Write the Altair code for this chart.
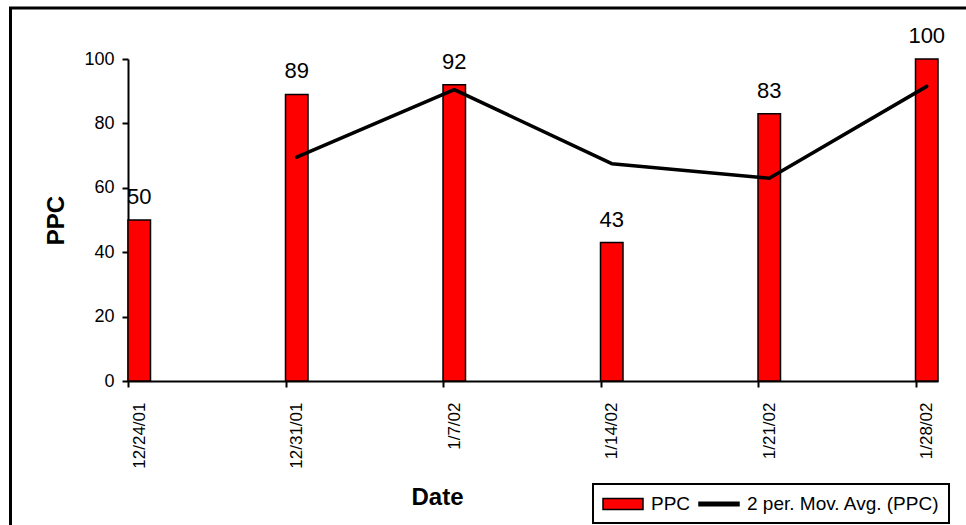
import altair as alt
import pandas as pd

# ---- data ----
dates = ["2001-12-24", "2001-12-31", "2002-01-07", "2002-01-14", "2002-01-21", "2002-01-28"]
ppc = [50, 89, 92, 43, 83, 100]
mov_avg = [None, 69.5, 90.5, 67.5, 63, 91.5]
series_names = ["PPC", "2 per. Mov. Avg. (PPC)"]
series_colors = ["#FF0000", "#000000"]
y_ticks = [0, 20, 40, 60, 80, 100]
domain_end = "2002-01-29"

df = pd.DataFrame({"date": dates, "ppc": ppc, "ma": mov_avg})
leg_df = pd.DataFrame({"series": series_names})


def dt(s):
    y, m, d = (int(p) for p in s.split("-"))
    return alt.DateTime(year=y, month=m, date=d, utc=True)


FONT = "Liberation Sans"

x_scale = alt.Scale(type="utc", domain=[dt(dates[0]), dt(domain_end)], nice=False, padding=0)
y_scale = alt.Scale(domain=[0, 100], nice=False, zero=True, padding=0)

x_axis = alt.Axis(
    values=[dt(d) for d in dates],
    labelExpr="utcFormat(datum.value, '%-m/%-d/%y')",
    labelAngle=270, labelFontSize=17, labelOffset=11, labelPadding=15,
    labelFlush=False, labelOverlap=False,
    tickSize=6, tickWidth=2, domainWidth=2, grid=False,
    title="Date", titleFontSize=24, titleFontWeight="bold",
    titleX=309, titleY=123, titleAlign="center", titleBaseline="alphabetic",
)
y_axis = alt.Axis(
    values=y_ticks, labelFontSize=18, labelPadding=8,
    tickSize=6, tickWidth=2, domainWidth=2, grid=False,
    title="PPC", titleFontSize=24, titleFontWeight="bold", titleAngle=270,
    titleX=-65, titleY=161, titleAlign="center", titleBaseline="alphabetic",
)


def X(field):
    return alt.X(field, type="temporal", scale=x_scale, axis=x_axis)


def Y(field):
    return alt.Y(field, type="quantitative", scale=y_scale, axis=y_axis)


base = (
    alt.Chart(df)
    .transform_calculate(start="time(utcParse(datum.date, '%Y-%m-%d'))")
    .transform_calculate(end="datum.start + 86400000")
    .transform_calculate(mid="datum.start + 43200000")
    .transform_calculate(zero="0")
)

bars = base.mark_bar(color="#FF0000", stroke="black", strokeWidth=1.5, orient="vertical").encode(
    x=X("start"), x2="end:T", y=Y("ppc"), y2="zero:Q"
)

line = base.mark_line(color="black", strokeWidth=3.5, strokeCap="round", strokeJoin="round").encode(
    x=X("mid"), y=Y("ma")
)

labels = base.mark_text(fontSize=22, dy=-16, baseline="alphabetic", align="center", color="black").encode(
    x=X("mid"), y=Y("ppc"), text="ppc:Q"
)

symbol_paths = ["M-1,-0.55L3,-0.55L3,0.55L-1,0.55Z", "M-1,-0.17L3,-0.17L3,0.17L-1,0.17Z"]
legend = alt.Legend(
    title=None, orient="none", legendX=465, legendY=425,
    direction="horizontal", columns=2,
    labelFontSize=19, labelColor="black", labelLimit=500,
    symbolSize=400, symbolStrokeWidth=1.5,
    symbolOpacity=1, labelOffset=27, columnPadding=5, padding=9,
    strokeColor="black", fillColor="white",
)

legend_layer = (
    alt.Chart(leg_df)
    .transform_filter("false")
    .mark_point(filled=True, strokeWidth=1.5)
    .encode(
        color=alt.Color("series:N", scale=alt.Scale(domain=series_names, range=series_colors), legend=legend),
        shape=alt.Shape("series:N", scale=alt.Scale(domain=series_names, range=symbol_paths), legend=legend),
        stroke=alt.Stroke("series:N", scale=alt.Scale(domain=series_names, range=["#000000", "#000000"]), legend=legend),
    )
)

frame = alt.Chart(alt.Data(values=[{}])).mark_rect(
    fillOpacity=0, stroke="black", strokeWidth=3
).encode(
    x=alt.value(-117.5), x2=alt.value(870), y=alt.value(-51), y2=alt.value(490)
)

chart = (
    alt.layer(bars, line, labels, legend_layer, frame)
    .properties(
        width=810, height=322,
        autosize=alt.AutoSizeParams(type="none"),
        padding={"left": 128, "top": 59, "right": 28, "bottom": 144},
        background="white",
    )
    .configure(font=FONT)
    .configure_view(strokeWidth=0)
    .configure_axis(labelColor="black", titleColor="black", domainColor="black", tickColor="black",
                    labelFont=FONT, titleFont=FONT)
    .configure_legend(strokeWidth=2, labelFont=FONT)
)

chart.save("out.html", embed_options={"renderer": "svg", "actions": False})
